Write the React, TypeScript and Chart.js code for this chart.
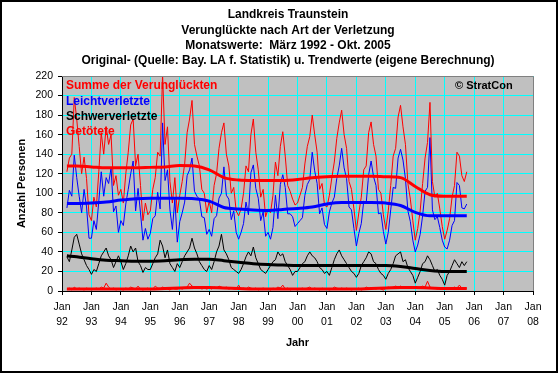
import React, { useEffect, useRef } from 'react';
import { Chart, registerables } from 'chart.js';

Chart.register(...registerables);

// Monate seit Jan 1992; Daten beginnen März 1992 (Index 2)
const START_MONTH = 2;

const summe = [
  122, 136, 140, 198, 176, 148, 120, 137, 115, 78,
  72, 96, 86, 122, 162, 140, 168, 150, 160, 108, 118, 98,
  104, 90, 120, 142, 170, 176, 128, 140, 108, 72, 90, 78,
  82, 104, 116, 142, 138, 222, 150, 168, 112, 90, 116, 80,
  98, 112, 130, 162, 176, 195, 150, 138, 128, 104, 100, 80,
  92, 80, 108, 120, 146, 162, 172, 140, 128, 100, 106, 82,
  77, 84, 100, 128, 122, 160, 176, 142, 124, 96, 104, 76,
  84, 80, 98, 132, 118, 148, 163, 138, 108, 102, 94, 88,
  90, 98, 106, 130, 148, 158, 180, 160, 142, 104, 110, 88,
  86, 98, 116, 132, 156, 172, 185, 160, 146, 112, 104, 84,
  62, 80, 96, 124, 128, 162, 173, 150, 138, 104, 100, 78,
  63, 82, 108, 138, 146, 178, 190, 168, 150, 110, 94, 72,
  52, 64, 82, 110, 136, 152, 193, 112, 96, 100, 84, 66,
  53, 62, 74, 96, 108, 142, 138, 118, 112, 122,
];

const leicht = [
  85, 103, 97, 139, 116, 97, 80, 104, 86, 54,
  54, 72, 63, 92, 122, 97, 116, 110, 126, 81, 87, 60,
  72, 67, 89, 104, 120, 133, 82, 105, 80, 52, 64, 53,
  59, 74, 77, 101, 84, 172, 113, 124, 83, 63, 94, 50,
  71, 80, 91, 118, 124, 136, 102, 97, 94, 76, 75, 58,
  63, 56, 74, 77, 95, 100, 127, 98, 94, 73, 82, 60,
  53, 60, 69, 91, 78, 121, 129, 105, 95, 72, 81, 56,
  60, 53, 65, 98, 74, 109, 119, 106, 79, 79, 76, 66,
  69, 72, 75, 98, 109, 114, 142, 123, 110, 79, 85, 68,
  64, 81, 90, 96, 115, 128, 146, 126, 115, 86, 83, 64,
  46, 59, 69, 92, 90, 119, 133, 117, 108, 79, 80, 61,
  48, 60, 83, 106, 105, 136, 145, 134, 115, 82, 71, 52,
  40, 47, 58, 77, 102, 106, 157, 83, 73, 76, 65, 52,
  45, 43, 52, 67, 72, 111, 108, 85, 84, 89,
];

const schwer = [
  35, 30, 42, 55, 58, 48, 38, 32, 26, 22,
  17, 22, 20, 28, 36, 40, 44, 36, 32, 24, 30, 36,
  30, 22, 28, 36, 46, 40, 44, 30, 26, 19, 24, 22,
  22, 28, 34, 38, 52, 46, 34, 42, 28, 24, 20, 28,
  24, 30, 36, 40, 44, 54, 44, 38, 30, 26, 22, 20,
  26, 22, 30, 40, 46, 58, 42, 38, 32, 24, 22, 20,
  18, 22, 28, 35, 40, 36, 45, 34, 28, 22, 20, 18,
  22, 26, 30, 32, 40, 36, 38, 30, 26, 22, 16, 20,
  20, 24, 28, 30, 36, 40, 36, 34, 30, 24, 22, 18,
  20, 16, 24, 32, 38, 42, 36, 32, 28, 24, 20, 18,
  14, 18, 26, 30, 34, 40, 38, 30, 28, 22, 18, 16,
  12, 18, 22, 28, 36, 38, 40, 30, 32, 24, 20, 16,
  8, 14, 20, 28, 30, 36, 32, 26, 20, 22, 16, 12,
  6, 16, 20, 26, 32, 28, 24, 30, 26, 30,
];

const getoetete = [
  2, 3, 1, 4, 2, 3, 2, 1, 3, 2,
  1, 2, 3, 2, 4, 3, 8, 4, 2, 3, 1, 2,
  2, 1, 3, 2, 4, 3, 2, 5, 2, 1, 2, 3,
  1, 2, 5, 3, 2, 4, 3, 2, 1, 3, 2, 2,
  3, 2, 3, 4, 8, 5, 4, 3, 4, 2, 3, 2,
  3, 2, 4, 3, 5, 4, 3, 4, 2, 3, 2, 2,
  6, 2, 3, 2, 4, 3, 2, 3, 1, 2, 3, 2,
  2, 1, 3, 2, 4, 3, 6, 2, 3, 1, 2, 2,
  1, 2, 3, 2, 3, 4, 2, 3, 2, 1, 3, 2,
  2, 1, 2, 4, 3, 2, 3, 2, 3, 2, 1, 2,
  2, 3, 1, 2, 4, 3, 2, 3, 2, 3, 2, 1,
  3, 4, 3, 4, 5, 4, 5, 4, 3, 4, 3, 4,
  4, 3, 4, 5, 4, 10, 4, 3, 3, 2, 3, 2,
  2, 3, 2, 3, 4, 3, 6, 3, 2, 3,
];

// Trendwerte (Stützstellen in Monaten seit Jan 1992)
const trendMonths = [2, 6, 12, 18, 24, 30, 36, 42, 48, 54, 60, 66, 72, 78, 84, 90, 96, 102, 108, 114, 120, 126, 132, 138, 144, 150, 156, 162, 165];
const trendSumme = [128, 128, 127, 126, 126, 126, 126.5, 127, 128.5, 128, 124, 116, 113.5, 113, 113, 113, 114, 116, 117, 117.5, 117.5, 117.5, 117, 116, 107, 98.5, 97, 97, 97];
const trendLeicht = [89.5, 89.5, 90, 91, 93, 94.5, 95, 95, 95, 94.5, 92, 85.5, 84, 83, 82.5, 83.5, 84.5, 86, 89, 90.5, 90.5, 90.5, 90, 87.5, 80.5, 77, 77, 77, 77];
const trendSchwer = [36, 35, 33, 31.5, 31, 30.5, 30.5, 31, 32, 32.5, 32.5, 31, 29.5, 28, 27, 26.5, 26, 26, 26, 26, 26, 26, 26, 25, 23, 21, 20, 20, 20];
const trendGetoetete = [2, 2, 2, 2, 2, 2, 2, 2.5, 3, 3.5, 3.5, 3, 2.5, 2, 2, 2, 2, 2, 2, 2, 2, 2.5, 3, 3.5, 3.5, 3, 2.5, 2.5, 2.5];

const yearLabels = ['92', '93', '94', '95', '96', '97', '98', '99', '00', '01', '02', '03', '04', '05', '06', '07', '08'];
const titleLines = [
  'Landkreis Traunstein',
  'Verunglückte nach Art der Verletzung',
  'Monatswerte:  März 1992 - Okt. 2005',
  'Original- (Quelle: Bay. LA f. Statistik) u. Trendwerte (eigene Berechnung)',
];
const legendItems = [
  { text: 'Summe der Verunglückten', color: '#ff0000' },
  { text: 'Leichtverletzte', color: '#0000ff' },
  { text: 'Schwerverletzte', color: '#000000' },
  { text: 'Getötete', color: '#ff0000' },
];

const FONT = '"Liberation Sans", Arial, Helvetica, sans-serif';

const toPoints = (vals: number[]) => vals.map((v, i) => ({ x: START_MONTH + i, y: v }));
const toTrend = (vals: number[]) => vals.map((v, i) => ({ x: trendMonths[i], y: v }));

const decor = {
  id: 'decor',
  beforeDraw(chart: any) {
    const { ctx, chartArea: a } = chart;
    ctx.save();
    ctx.fillStyle = '#ffffff';
    ctx.fillRect(0, 0, chart.width, chart.height);
    ctx.fillStyle = '#c0c0c0';
    ctx.fillRect(a.left, a.top, a.right - a.left, a.bottom - a.top);
    ctx.restore();
  },
  afterDraw(chart: any) {
    const { ctx, chartArea: a } = chart;
    ctx.save();
    // plot border top/right
    ctx.strokeStyle = '#808080';
    ctx.lineWidth = 1;
    ctx.beginPath();
    ctx.moveTo(a.left, a.top + 0.5);
    ctx.lineTo(a.right + 0.5, a.top + 0.5);
    ctx.lineTo(a.right + 0.5, a.bottom);
    ctx.stroke();

    // titles
    ctx.fillStyle = '#000';
    ctx.font = `bold 12px ${FONT}`;
    ctx.textAlign = 'center';
    ctx.textBaseline = 'middle';
    const ty = [15, 31, 46, 61];
    titleLines.forEach((t, i) => ctx.fillText(t, 288, ty[i]));

    // legend
    ctx.textAlign = 'left';
    const ly = [86, 102, 117, 132];
    legendItems.forEach((it, i) => {
      ctx.fillStyle = it.color;
      ctx.fillText(it.text, 66, ly[i]);
    });

    // copyright
    ctx.fillStyle = '#000';
    ctx.font = `bold 11px ${FONT}`;
    ctx.fillText('© StratCon', 455, 86);

    // axis titles
    ctx.font = `bold 11px ${FONT}`;
    ctx.textAlign = 'center';
    ctx.fillText('Jahr', (a.left + a.right) / 2, 343);
    ctx.translate(22, (a.top + a.bottom) / 2);
    ctx.rotate(-Math.PI / 2);
    ctx.fillText('Anzahl Personen', 0, 0);
    ctx.restore();

    // outer border
    ctx.save();
    ctx.strokeStyle = '#000';
    ctx.lineWidth = 2;
    ctx.strokeRect(1, 1, 556, 371);
    ctx.restore();
  },
};

export default function App() {
  const ref = useRef<HTMLCanvasElement>(null);

  useEffect(() => {
    document.body.style.margin = '0';
    const canvas = ref.current!;
    const raw = (label: string, data: number[], color: string) => ({
      label, data: toPoints(data), borderColor: color, borderWidth: 1, pointRadius: 0, tension: 0, fill: false,
    });
    const trend = (label: string, data: number[], color: string) => ({
      label, data: toTrend(data), borderColor: color, borderWidth: 3, pointRadius: 0,
      cubicInterpolationMode: 'monotone', fill: false,
    });
    const chart = new Chart(canvas, {
      type: 'line',
      data: {
        datasets: [
          trend('Trend Summe', trendSumme, '#ff0000'),
          trend('Trend Leicht', trendLeicht, '#0000ff'),
          trend('Trend Schwer', trendSchwer, '#000000'),
          trend('Trend Getötete', trendGetoetete, '#ff0000'),
          raw('Summe der Verunglückten', summe, '#ff0000'),
          raw('Leichtverletzte', leicht, '#0000ff'),
          raw('Schwerverletzte', schwer, '#000000'),
          raw('Getötete', getoetete, '#ff0000'),
        ] as any,
      },
      plugins: [decor],
      options: {
        responsive: false,
        animation: false,
        devicePixelRatio: 1,
        layout: { padding: { top: 76, right: 27, left: 0, bottom: 0 } },
        plugins: { legend: { display: false }, title: { display: false }, tooltip: { enabled: false } },
        scales: {
          x: {
            type: 'linear',
            min: 0,
            max: 192,
            afterFit: (s: any) => { s.height = 374 - 291; },
            grid: { color: '#00ffff', lineWidth: 1, tickColor: '#000', tickLength: 4, drawTicks: true },
            border: { color: '#000', width: 1 },
            ticks: {
              stepSize: 12,
              autoSkip: false,
              maxRotation: 0,
              padding: 4,
              color: '#000',
              font: { family: FONT, size: 10.5, lineHeight: 1.49 },
              callback: (v: any) => ['Jan', yearLabels[Math.round(Number(v) / 12)]],
            },
          },
          y: {
            min: 0,
            max: 220,
            afterFit: (s: any) => { s.width = 62; },
            grid: { color: '#00ffff', lineWidth: 1, tickColor: '#000', tickLength: 4, drawTicks: true },
            border: { color: '#000', width: 1 },
            ticks: {
              stepSize: 20,
              padding: 5,
              color: '#000',
              font: { family: FONT, size: 10.5 },
            },
          },
        },
      } as any,
    });
    return () => chart.destroy();
  }, []);

  return (
    <div style={{ width: 560, height: 374, position: 'relative' }}>
      <canvas ref={ref} width={560} height={374} style={{ display: 'block', width: 560, height: 374 }} />
    </div>
  );
}
